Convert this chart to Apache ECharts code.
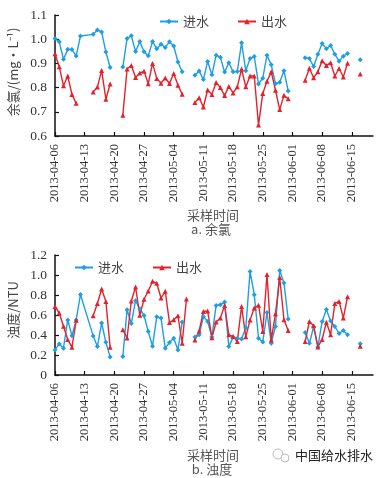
<!DOCTYPE html>
<html><head><meta charset="utf-8">
<script src="https://cdn.jsdelivr.net/npm/echarts@6/dist/echarts.min.js"></script>
<style>html,body{margin:0;padding:0;background:#fff}#c{width:382px;height:478px}</style>
</head><body><div id="c"></div>
<script>
// x tick labels (one every 7 days, day 0 = 2013-04-06)
const xTickLabels = ['2013-04-06','2013-04-13','2013-04-20','2013-04-27','2013-05-04','2013-05-11','2013-05-18','2013-05-25','2013-06-01','2013-06-08','2013-06-15'];
const yTicksCl = ['0.6','0.7','0.8','0.9','1.0','1.1'];
const yTicksTb = ['0','0.2','0.4','0.6','0.8','1.0','1.2'];
const seriesNames = ['进水','出水'];

// sample days (days after 2013-04-06); a null value breaks the line
const inDays = [0,1,2,3,4,5,6,9,10,11,12,13,14,
  16,17,18,19,20,21,22,23,24,25,26,27,28,29,30,31,
  33,34,35,36,37,38,39,40,41,42,43,44,45,46,47,48,49,50,51,52,53,54,55,56,
  59,60,61,62,63,64,65,66,67,68,69,70,72];
const clOutDays = [0,1,2,3,4,5,7,9,10,11,12,13,14,
  16,17,18,19,20,21,22,23,24,25,26,27,28,29,30,31,
  33,34,35,36,37,38,39,40,41,42,43,44,45,46,47,48,49,50,51,52,53,54,55,56,
  59,60,61,62,63,64,65,66,67,68,69,70,72];
const tbOutDays = [0,1,2,3,4,5,7,9,10,11,12,13,14,
  16,17,18,19,20,21,22,23,24,25,26,27,28,29,30,31,32,
  33,34,35,36,37,38,39,40,41,42,43,44,45,46,47,48,49,50,51,52,53,54,55,56,
  59,60,61,62,63,64,65,66,67,68,69,70,72];

// 余氯 (mg/L)
const clIn = [1.003,0.989,0.917,0.958,0.957,0.931,1.013,1.02,1.038,1.03,0.947,0.883,null,
  0.885,1.003,1.014,0.949,0.99,0.948,0.932,0.99,0.961,0.979,0.966,0.989,0.972,0.906,0.865,null,
  0.851,0.869,0.833,0.908,0.853,0.934,0.925,0.864,0.903,0.865,0.867,0.985,0.87,0.92,0.928,0.815,0.839,0.934,0.894,0.816,0.822,0.87,0.786,null,
  0.923,0.92,0.887,0.938,0.982,0.961,0.974,0.938,0.909,0.93,0.941,null,0.915];
const clOut = [0.94,0.886,0.808,0.848,0.772,0.735,null,0.782,0.802,0.871,0.752,0.815,null,
  0.686,0.877,0.891,0.842,0.86,0.868,0.816,0.9,0.838,0.818,0.84,0.817,0.858,0.81,0.773,null,
  0.738,0.758,0.72,0.79,0.772,0.821,0.8,0.767,0.805,0.778,0.803,0.877,0.803,0.848,0.848,0.645,0.776,0.826,0.865,0.789,0.709,0.768,0.754,null,
  0.83,0.88,0.841,0.865,0.911,0.891,0.903,0.848,0.879,0.844,0.901,null,0.856];

// 浊度 (NTU)
const tbIn = [0.251,0.311,0.268,0.551,0.393,0.551,0.805,0.391,0.284,0.52,0.327,0.181,null,
  0.184,0.653,0.516,0.743,0.66,0.595,0.435,0.288,0.582,0.569,0.268,0.325,0.368,0.251,0.53,null,
  0.379,0.402,0.585,0.535,0.379,0.696,0.703,0.73,0.284,0.379,0.368,0.361,0.469,1.035,0.803,0.368,0.33,0.625,0.318,0.485,1.045,0.92,0.559,null,
  0.425,0.318,0.482,0.281,0.535,0.656,0.54,0.485,0.415,0.445,0.402,null,0.313];
const tbOut = [0.686,0.62,0.487,0.355,0.278,0.547,null,0.592,0.715,0.86,0.736,0.278,null,
  0.452,0.37,0.74,0.88,0.597,0.757,0.84,0.937,0.917,0.77,0.837,0.525,0.552,0.592,0.318,0.76,null,
  0.351,0.44,0.636,0.64,0.373,0.53,0.569,0.695,0.402,0.385,0.335,0.686,0.382,0.55,0.67,0.698,0.435,1.004,0.351,0.612,0.975,0.552,0.445,null,
  0.335,0.535,0.492,0.281,0.355,0.527,0.402,0.716,0.736,0.569,0.783,null,0.288];

const BLUE = '#1f9fdf', RED = '#e2222c';
const SERIF = 'Liberation Serif';
const CJK = 'Noto Sans CJK SC';
const pairs = (days, vals) => days.map((d, i) => [d, vals[i]]);

function xAxisOpt(gi) {
  return {
    type: 'value', gridIndex: gi, min: 0, max: 75, interval: 7,
    axisLine: {lineStyle: {color: '#111', width: 1.5}},
    axisTick: {inside: true, length: 4, lineStyle: {color: '#111', width: 1.2}},
    splitLine: {show: false},
    axisLabel: {rotate: 90, margin: 8, color: '#333', fontFamily: SERIF, fontSize: 12.5,
      showMaxLabel: false,
      formatter: v => (v % 7 === 0 && xTickLabels[v / 7]) ? xTickLabels[v / 7] : ''}
  };
}
function yAxisOpt(gi, min, max, interval, labels) {
  return {
    type: 'value', gridIndex: gi, min, max, interval,
    axisLine: {show: true, lineStyle: {color: '#111', width: 1.5}},
    axisTick: {show: true, inside: true, length: 4, lineStyle: {color: '#111', width: 1.2}},
    splitLine: {show: false},
    axisLabel: {margin: 8, color: '#333', fontFamily: SERIF, fontSize: 13.5,
      formatter: v => labels[Math.round((v - min) / interval)]}
  };
}
function lineSeries(name, gi, days, vals, color, symbol, size) {
  return {
    name, type: 'line', xAxisIndex: gi, yAxisIndex: gi,
    data: pairs(days, vals), connectNulls: false,
    symbol, symbolSize: size, showAllSymbol: true,
    lineStyle: {color, width: 1.4}, itemStyle: {color},
    emphasis: {disabled: true}, animation: false
  };
}

const chart = echarts.init(document.getElementById('c'), null, {renderer: 'canvas'});
chart.setOption({
  animation: false,
  grid: [
    {left: 55, right: 9, top: 15, height: 121},
    {left: 55, right: 9, top: 255, height: 120}
  ],
  xAxis: [xAxisOpt(0), xAxisOpt(1)],
  yAxis: [yAxisOpt(0, 0.6, 1.1, 0.1, yTicksCl), yAxisOpt(1, 0, 1.2, 0.2, yTicksTb)],
  legend: [
    {left: 154, top: 10, itemGap: 28, itemWidth: 18, itemHeight: 7,
     data: seriesNames, textStyle: {fontFamily: CJK, fontSize: 13, color: '#444'}},
    {left: 69, top: 256, itemGap: 28, itemWidth: 18, itemHeight: 7,
     data: seriesNames, textStyle: {fontFamily: CJK, fontSize: 13, color: '#444'}}
  ],
  series: [
    lineSeries(seriesNames[0], 0, inDays, clIn, BLUE, 'diamond', 5),
    lineSeries(seriesNames[1], 0, clOutDays, clOut, RED, 'triangle', 5),
    lineSeries(seriesNames[0], 1, inDays, tbIn, BLUE, 'diamond', 5),
    lineSeries(seriesNames[1], 1, tbOutDays, tbOut, RED, 'triangle', 5)
  ],
  graphic: [
    {type: 'text', x: 13, y: 72, rotation: Math.PI / 2,
     style: {text: '余氯/(mg·L⁻¹)', font: "13px 'Noto Sans CJK SC'", fill: '#444', align: 'center', verticalAlign: 'middle'}},
    {type: 'text', x: 13, y: 310, rotation: Math.PI / 2,
     style: {text: '浊度/NTU', font: "13px 'Noto Sans CJK SC'", fill: '#444', align: 'center', verticalAlign: 'middle'}},
    {type: 'text', x: 213, y: 215,
     style: {text: '采样时间', font: "13px 'Noto Sans CJK SC'", fill: '#555', align: 'center', verticalAlign: 'middle'}},
    {type: 'text', x: 211, y: 229,
     style: {text: 'a. 余氯', font: "13px 'Noto Sans CJK SC'", fill: '#555', align: 'center', verticalAlign: 'middle'}},
    {type: 'text', x: 213, y: 455,
     style: {text: '采样时间', font: "13px 'Noto Sans CJK SC'", fill: '#555', align: 'center', verticalAlign: 'middle'}},
    {type: 'text', x: 212, y: 469,
     style: {text: 'b. 浊度', font: "13px 'Noto Sans CJK SC'", fill: '#555', align: 'center', verticalAlign: 'middle'}},
    {type: 'circle', shape: {cx: 278, cy: 454, r: 5}, style: {fill: 'none', stroke: '#bbb', lineWidth: 1}},
    {type: 'circle', shape: {cx: 285, cy: 458, r: 4}, style: {fill: '#fff', stroke: '#bbb', lineWidth: 1}},
    {type: 'text', x: 334, y: 455,
     style: {text: '中国给水排水', font: "13px 'Noto Sans CJK SC'", fill: '#222', align: 'center', verticalAlign: 'middle'}}
  ]
});
</script></body></html>
